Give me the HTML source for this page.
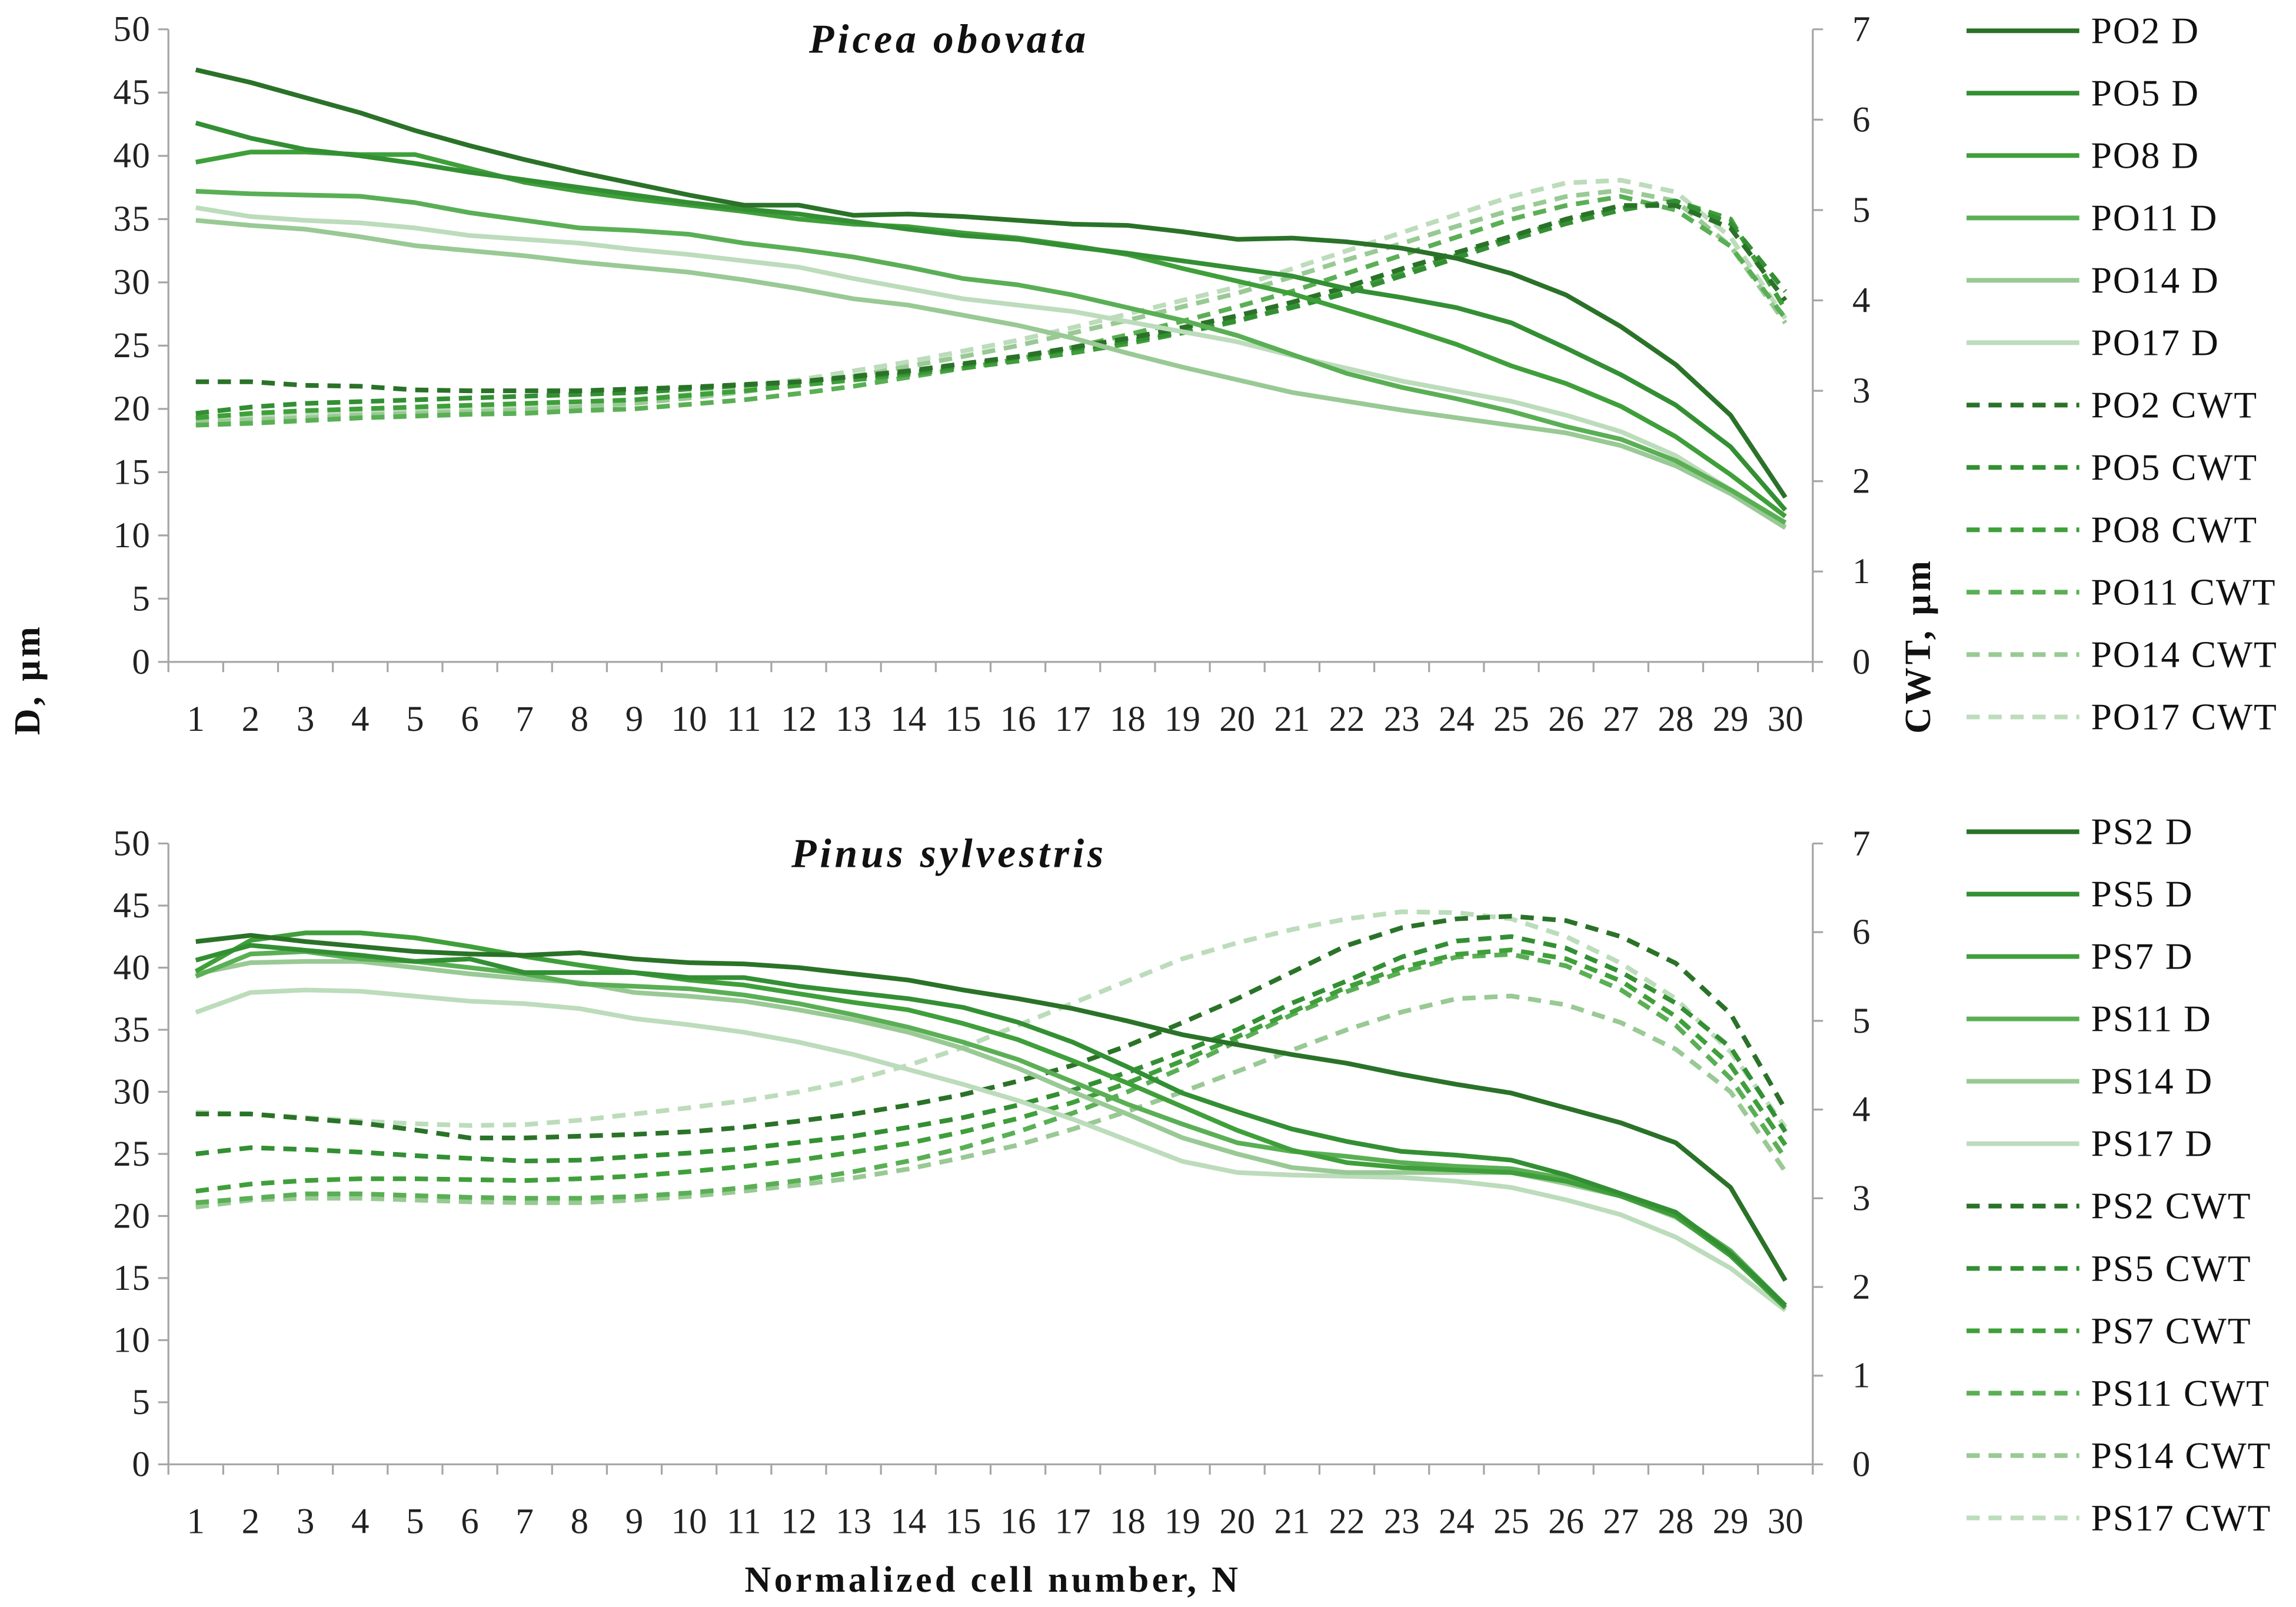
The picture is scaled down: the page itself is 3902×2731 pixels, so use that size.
<!DOCTYPE html>
<html><head><meta charset="utf-8"><style>html,body{margin:0;padding:0;background:#fff}svg{display:block}</style></head>
<body>
<svg id="chart" width="3902" height="2731" viewBox="0 0 1568 1097.4" xmlns="http://www.w3.org/2000/svg" font-family="'Liberation Serif', serif"></svg>
<script>
const categories = [1,2,3,4,5,6,7,8,9,10,11,12,13,14,15,16,17,18,19,20,21,22,23,24,25,26,27,28,29,30];
const leftTicks = [0,5,10,15,20,25,30,35,40,45,50];
const rightTicks = [0,1,2,3,4,5,6,7];
const colors = ["#2a7228","#338f33","#3f9f3a","#5aaf55","#99c994","#bcdcbb"];

const poNames = ["PO2","PO5","PO8","PO11","PO14","PO17"];
const psNames = ["PS2","PS5","PS7","PS11","PS14","PS17"];

const poD2 = [46.8,45.8,44.6,43.4,42,40.8,39.7,38.7,37.8,36.9,36.1,36.1,35.3,35.4,35.2,34.9,34.6,34.5,34.0,33.4,33.5,33.2,32.7,31.9,30.7,29.0,26.5,23.5,19.5,13.0];
const poD5 = [42.6,41.4,40.5,40.0,39.4,38.7,38.1,37.5,36.9,36.3,35.8,35.4,34.8,34.2,33.7,33.4,32.8,32.3,31.7,31.1,30.5,29.5,28.8,28.0,26.8,24.8,22.7,20.3,17,12];
const poD8 = [39.5,40.3,40.3,40.1,40.1,39.0,37.9,37.2,36.6,36.1,35.6,35.0,34.6,34.4,33.9,33.5,32.9,32.2,31.1,30.1,29.1,27.8,26.5,25.1,23.4,22.0,20.2,17.8,14.8,11.5];
const poD11 = [37.2,37.0,36.9,36.8,36.3,35.5,34.9,34.3,34.1,33.8,33.1,32.6,32.0,31.2,30.3,29.8,29,28,27,25.8,24.3,22.8,21.7,20.8,19.8,18.6,17.6,15.9,13.6,11];
const poD14 = [34.9,34.5,34.2,33.6,32.9,32.5,32.1,31.6,31.2,30.8,30.2,29.5,28.7,28.2,27.4,26.6,25.6,24.4,23.3,22.3,21.3,20.6,19.9,19.3,18.7,18.1,17.1,15.5,13.3,10.6];
const poD17 = [35.9,35.2,34.9,34.7,34.3,33.7,33.4,33.1,32.6,32.2,31.7,31.2,30.3,29.5,28.7,28.2,27.7,26.9,26.1,25.3,24.2,23.2,22.2,21.4,20.6,19.5,18.2,16.3,13.6,10.7];
const poC2 = [3.1,3.1,3.06,3.05,3.01,3.0,3.0,3.0,3.02,3.04,3.07,3.1,3.16,3.22,3.3,3.38,3.48,3.58,3.7,3.83,3.98,4.15,4.35,4.53,4.71,4.9,5.05,5.05,4.8,4.0];
const poC5 = [2.75,2.82,2.86,2.88,2.9,2.92,2.94,2.96,2.98,3.02,3.06,3.1,3.15,3.2,3.28,3.37,3.46,3.55,3.65,3.78,3.92,4.08,4.27,4.47,4.67,4.85,5.0,5.1,4.85,4.1];
const poC8 = [2.7,2.75,2.78,2.8,2.82,2.84,2.86,2.88,2.9,2.95,3.0,3.06,3.12,3.18,3.25,3.33,3.42,3.52,3.64,3.77,3.93,4.1,4.3,4.5,4.7,4.88,5.02,5.1,4.9,3.9];
const poC11 = [2.62,2.64,2.67,2.7,2.72,2.74,2.75,2.78,2.8,2.85,2.9,2.97,3.05,3.15,3.25,3.35,3.48,3.62,3.77,3.93,4.1,4.3,4.5,4.7,4.9,5.05,5.15,5.0,4.6,3.8];
const poC14 = [2.65,2.68,2.7,2.73,2.75,2.77,2.79,2.82,2.86,2.92,2.99,3.07,3.16,3.27,3.38,3.5,3.64,3.78,3.93,4.08,4.26,4.45,4.63,4.82,5.0,5.15,5.22,5.1,4.6,3.75];
const poC17 = [2.7,2.72,2.75,2.78,2.8,2.82,2.84,2.86,2.9,2.96,3.04,3.12,3.22,3.32,3.44,3.56,3.7,3.85,4.0,4.15,4.35,4.55,4.75,4.95,5.15,5.3,5.33,5.2,4.7,3.8];

const psD2 = [42.1,42.6,42.1,41.7,41.3,41.1,41.0,41.2,40.7,40.4,40.3,40.0,39.5,39.0,38.2,37.5,36.7,35.7,34.6,33.8,33.0,32.3,31.4,30.6,29.9,28.7,27.5,25.9,22.3,14.8];
const psD5 = [40.6,41.8,41.4,41.0,40.5,40.7,39.6,39.6,39.6,39.2,39.2,38.5,38.0,37.5,36.8,35.6,34.0,32.0,29.9,28.4,27.0,26.0,25.2,24.9,24.5,23.3,21.8,20.3,17.0,12.8];
const psD7 = [39.7,42.2,42.8,42.8,42.4,41.7,40.9,40.2,39.6,39.0,38.6,37.9,37.2,36.6,35.5,34.2,32.5,30.7,28.8,26.9,25.3,24.3,23.9,23.7,23.5,22.8,21.6,20.0,16.8,12.6];
const psD11 = [39.3,41.1,41.3,40.7,40.5,40.0,39.5,38.7,38.5,38.3,37.8,37.1,36.2,35.2,34.0,32.6,30.8,29.0,27.4,25.9,25.2,24.8,24.3,24.0,23.8,23.0,21.8,20.2,17.2,12.8];
const psD14 = [39.5,40.4,40.5,40.5,40.0,39.5,39.1,38.8,38.0,37.7,37.3,36.6,35.8,34.8,33.5,31.9,30.0,28.2,26.3,25.0,23.9,23.5,23.5,23.5,23.5,22.6,21.6,19.9,17.0,12.6];
const psD17 = [36.4,38.0,38.2,38.1,37.7,37.3,37.1,36.7,35.9,35.4,34.8,34.0,33.0,31.8,30.6,29.3,27.8,26.1,24.4,23.5,23.3,23.2,23.1,22.8,22.3,21.3,20.1,18.3,15.8,12.4];
const psC2 = [3.95,3.95,3.9,3.85,3.77,3.68,3.68,3.7,3.72,3.75,3.8,3.87,3.95,4.05,4.17,4.32,4.5,4.72,4.98,5.25,5.55,5.85,6.05,6.15,6.18,6.13,5.95,5.65,5.08,4.0];
const psC5 = [3.5,3.57,3.55,3.52,3.48,3.45,3.42,3.43,3.47,3.51,3.56,3.63,3.7,3.8,3.91,4.05,4.22,4.42,4.65,4.9,5.2,5.45,5.72,5.9,5.95,5.82,5.55,5.2,4.7,3.75];
const psC7 = [3.08,3.16,3.2,3.22,3.22,3.21,3.2,3.22,3.25,3.3,3.36,3.43,3.52,3.62,3.75,3.9,4.08,4.3,4.55,4.82,5.1,5.38,5.6,5.75,5.8,5.7,5.45,5.05,4.5,3.6];
const psC11 = [2.95,3.0,3.05,3.05,3.03,3.01,3.0,3.0,3.02,3.06,3.12,3.2,3.3,3.42,3.57,3.75,3.96,4.2,4.47,4.77,5.07,5.33,5.55,5.72,5.75,5.62,5.35,4.95,4.35,3.45];
const psC14 = [2.9,2.98,3.0,3.0,2.98,2.96,2.95,2.95,2.98,3.02,3.08,3.15,3.23,3.33,3.46,3.6,3.78,3.98,4.2,4.43,4.67,4.9,5.1,5.25,5.28,5.18,4.98,4.68,4.2,3.3];
const psC17 = [3.97,3.95,3.91,3.87,3.84,3.82,3.83,3.88,3.95,4.02,4.1,4.2,4.33,4.5,4.7,4.95,5.2,5.45,5.7,5.88,6.03,6.15,6.23,6.22,6.15,5.95,5.65,5.25,4.65,3.8];

const NS = "http://www.w3.org/2000/svg";
const svg = document.getElementById("chart");
function mk(tag, attrs, parent, text) {
  const e = document.createElementNS(NS, tag);
  for (const k in attrs) e.setAttribute(k, attrs[k]);
  if (text !== undefined) e.textContent = text;
  (parent || svg).appendChild(e);
  return e;
}
const X0 = 115, X1 = 1238;
const step = (X1 - X0) / categories.length;
function xPos(i) { return X0 + (i + 0.5) * step; }

function panel(key, title, titleLen, top, bottom, dSeries, cSeries, names, legendY0) {
  const g = mk("g", {});
  
  
  const yL = v => bottom - (v / 50) * (bottom - top);
  const yR = v => bottom - (v / 7) * (bottom - top);
  const ax = mk("g", {stroke: "#a6a6a6", "stroke-width": 1.3}, g);
  
  
  mk("line", {x1: X0, y1: top, x2: X0, y2: bottom}, ax);
  mk("line", {x1: X1, y1: top, x2: X1, y2: bottom}, ax);
  mk("line", {x1: X0, y1: bottom, x2: X1, y2: bottom}, ax);
  leftTicks.forEach(t => {
    mk("line", {x1: X0 - 7, x2: X0, y1: yL(t), y2: yL(t)}, ax);
    const tx = mk("text", {x: X0 - 12, y: yL(t) + 8, "text-anchor": "end", "font-size": 24.5, "letter-spacing": 0.6, fill: "#222"}, g, String(t));
    
    
  });
  rightTicks.forEach(t => {
    mk("line", {x1: X1, x2: X1 + 7, y1: yR(t), y2: yR(t)}, ax);
    const tx = mk("text", {x: X1 + 27, y: yR(t) + 8, "text-anchor": "start", "font-size": 24.5, fill: "#222"}, g, String(t));
    
    
  });
  for (let i = 0; i <= categories.length; i++) {
    mk("line", {x1: X0 + i * step, x2: X0 + i * step, y1: bottom, y2: bottom + 7}, ax);
  }
  categories.forEach((c, i) => {
    const tx = mk("text", {x: xPos(i), y: bottom + 47, "text-anchor": "middle", "font-size": 24.5, fill: "#222"}, g, String(c));
    
    
  });
  const tt = mk("text", {x: 647, y: top + 16, "text-anchor": "middle", "font-size": 28, "font-style": "italic", "font-weight": "bold", fill: "#111", textLength: titleLen, lengthAdjust: "spacing"}, g, title);
  
  
  const draw = (arr, scale, color, dashed, nm) => {
    const pts = arr.map((v, i) => xPos(i).toFixed(2) + "," + scale(v).toFixed(2)).join(" ");
    const p = mk("polyline", {points: pts, fill: "none", stroke: color, "stroke-width": 3.2, "stroke-linejoin": "round", "stroke-dasharray": dashed ? "9,6" : "none"}, g);
    
    
  };
  for (let s = cSeries.length - 1; s >= 0; s--) draw(cSeries[s], yR, colors[s], true, names[s].toLowerCase() + '-cwt-line');
  for (let s = dSeries.length - 1; s >= 0; s--) draw(dSeries[s], yL, colors[s], false, names[s].toLowerCase() + '-d-line');
  const lg = mk("g", {}, g);
  
  
  const labels = names.map(n => n + " D").concat(names.map(n => n + " CWT"));
  labels.forEach((lab, k) => {
    const y = legendY0 + k * 42.6;
    const s = k % 6, dashed = k >= 6;
    const ent = mk("g", {}, lg);
    
    
    mk("line", {x1: 1343, x2: 1420, y1: y, y2: y, stroke: colors[s], "stroke-width": 3.2, "stroke-dasharray": dashed ? "9,6" : "none"}, ent);
    mk("text", {x: 1428, y: y + 8.5, "font-size": 25.5, "letter-spacing": 0.8, fill: "#111"}, ent, lab);
  });
}

panel("picea", "Picea obovata", 189, 20, 452, [poD2,poD5,poD8,poD11,poD14,poD17], [poC2,poC5,poC8,poC11,poC14,poC17], poNames, 21);
panel("pinus", "Pinus sylvestris", 213, 576, 1000, [psD2,psD5,psD7,psD11,psD14,psD17], [psC2,psC5,psC7,psC11,psC14,psC17], psNames, 568);

const yt1 = mk("text", {x: 0, y: 0, transform: "translate(27,465) rotate(-90)", "text-anchor": "middle", "font-size": 25, "font-weight": "bold", fill: "#111", textLength: 74}, svg, "D, µm");


const yt2 = mk("text", {x: 0, y: 0, transform: "translate(1318,442) rotate(-90)", "text-anchor": "middle", "font-size": 25, "font-weight": "bold", fill: "#111", textLength: 118}, svg, "CWT, µm");


const xt = mk("text", {x: 677, y: 1087, "text-anchor": "middle", "font-size": 25, "font-weight": "bold", fill: "#111", textLength: 337}, svg, "Normalized cell number, N");


</script>
</body></html>
